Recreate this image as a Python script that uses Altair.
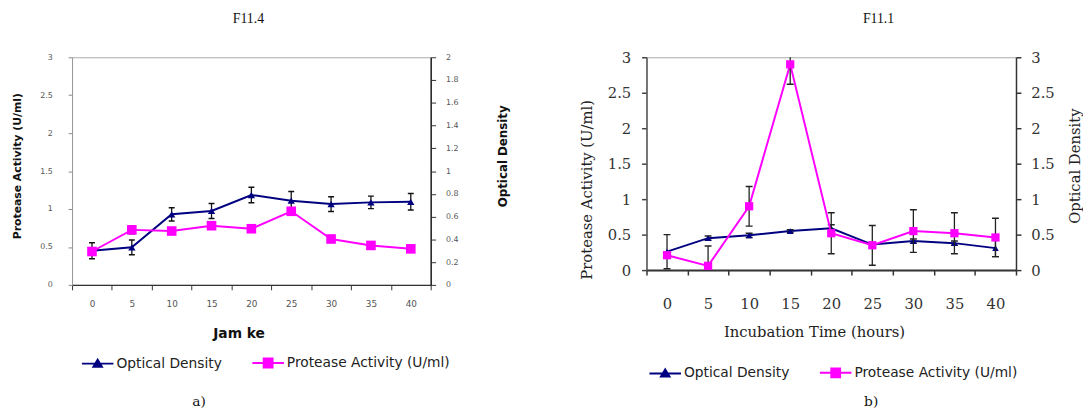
import altair as alt
import pandas as pd

# ---------------- data ----------------
hours = [0, 5, 10, 15, 20, 25, 30, 35, 40]
legend_labels = ["Optical Density", "Protease Activity (U/ml)"]

# panel a) F11.4
a_od = [0.30, 0.33, 0.62, 0.65, 0.79, 0.74, 0.71, 0.725, 0.73]
a_od_err = [0.07, 0.065, 0.058, 0.066, 0.068, 0.08, 0.065, 0.055, 0.072]
a_pa = [0.44, 0.725, 0.71, 0.78, 0.74, 0.97, 0.605, 0.52, 0.475]
a_pa_err = [0.05, 0.05, 0.03, 0.04, 0.03, 0.03, 0.03, 0.02, 0.02]

# panel b) F11.1
b_od = [0.26, 0.45, 0.49, 0.55, 0.59, 0.36, 0.41, 0.38, 0.31]
b_od_err = [0.24, 0.03, 0.03, 0.02, 0.05, 0.03, 0.03, 0.03, 0.12]
b_pa = [0.21, 0.06, 0.90, 2.90, 0.52, 0.35, 0.55, 0.52, 0.46]
b_pa_err = [0.0, 0.28, 0.28, 0.28, 0.29, 0.28, 0.30, 0.29, 0.27]

a_left_ticks = [0, 0.5, 1, 1.5, 2, 2.5, 3]
a_right_ticks = [0, 0.2, 0.4, 0.6, 0.8, 1, 1.2, 1.4, 1.6, 1.8, 2]
b_ticks = [0, 0.5, 1, 1.5, 2, 2.5, 3]

BLUE = "#000080"
MAG = "#FF00FF"
TRI = "M-1,0H1M0,-0.25L0.27,0.2H-0.27Z"
SQR = "M-1,0H1M-0.28,-0.28H0.28V0.28H-0.28Z"


def table(od, od_err, pa, pa_err):
    df = pd.DataFrame({"hour": hours, "od": od, "od_err": od_err,
                       "pa": pa, "pa_err": pa_err})
    df["od_lo"] = df["od"] - df["od_err"]
    df["od_hi"] = df["od"] + df["od_err"]
    df["pa_lo"] = df["pa"] - df["pa_err"]
    df["pa_hi"] = df["pa"] + df["pa_err"]
    return df


def make_panel(df, st):
    base = alt.Chart(df)
    x = alt.X("hour:O", sort=hours,
              scale=alt.Scale(type="band", paddingInner=0, paddingOuter=0),
              axis=alt.Axis(**st["xaxis"]))
    od_scale = alt.Scale(domain=st["od_domain"], nice=False)
    pa_scale = alt.Scale(domain=[0, 3], nice=False)
    od_axis = alt.Axis(**st["raxis"])
    pa_axis = alt.Axis(**st["laxis"])

    def err_layers(lo, hi, scale, axis):
        return [
            base.mark_rule(color=st["err_color"], strokeWidth=1.3, clip=True).encode(
                x=x, y=alt.Y(f"{lo}:Q", scale=scale, axis=axis), y2=f"{hi}:Q"),
            base.mark_tick(color=st["err_color"], size=st["cap"], thickness=1.5, clip=True,
                           opacity=1).encode(
                x=x, y=alt.Y(f"{lo}:Q", scale=scale, axis=axis)),
            base.mark_tick(color=st["err_color"], size=st["cap"], thickness=1.5, clip=True,
                           opacity=1).encode(
                x=x, y=alt.Y(f"{hi}:Q", scale=scale, axis=axis)),
        ]

    od_group = alt.layer(
        base.mark_line(color=BLUE, strokeWidth=2).encode(
            x=x, y=alt.Y("od:Q", scale=od_scale, axis=od_axis)),
        *err_layers("od_lo", "od_hi", od_scale, od_axis),
        base.mark_point(shape="triangle-up", filled=True, color=BLUE, opacity=1,
                        size=st["tri"]).encode(
            x=x, y=alt.Y("od:Q", scale=od_scale, axis=od_axis)),
    )

    L = alt.Legend(title=None, orient="none", legendX=st["legX"], legendY=st["legY"],
                   direction="horizontal", symbolSize=1024, symbolStrokeWidth=2,
                   symbolOpacity=1, labelFont="DejaVu Sans", labelFontSize=14,
                   labelColor="#222", labelOffset=2, labelLimit=400, columnPadding=26)
    legend_layer = base.transform_filter("false").mark_point(
        filled=True, opacity=1, strokeWidth=2).encode(
        x=x, y=alt.Y("pa:Q", scale=pa_scale, axis=pa_axis),
        color=alt.Color("series:N", scale=alt.Scale(domain=legend_labels, range=[BLUE, MAG]), legend=L),
        stroke=alt.Stroke("series:N", scale=alt.Scale(domain=legend_labels, range=[BLUE, MAG]), legend=L),
        shape=alt.Shape("series:N", scale=alt.Scale(domain=legend_labels, range=[TRI, SQR]), legend=L),
    )

    pa_group = alt.layer(
        base.mark_line(color=MAG, strokeWidth=2).encode(
            x=x, y=alt.Y("pa:Q", scale=pa_scale, axis=pa_axis)),
        *err_layers("pa_lo", "pa_hi", pa_scale, pa_axis),
        base.mark_point(shape="square", filled=True, color=MAG, opacity=1,
                        size=st["sq"]).encode(
            x=x, y=alt.Y("pa:Q", scale=pa_scale, axis=pa_axis)),
        legend_layer,
    )

    panel = alt.layer(od_group, pa_group).resolve_scale(y="independent").properties(
        width=st["w"], height=st["h"], title=st["title"])
    return alt.vconcat(panel, title=st["caption"])


sans_label = dict(labelFont="DejaVu Sans", labelColor="#555", grid=False,
                  labelFlush=False, labelOverlap=False)
serif_label = dict(labelFont="DejaVu Serif", labelColor="#333", grid=False,
                   labelFlush=False, labelOverlap=False)

style_a = dict(
    w=364, h=231, od_domain=[0, 2], err_color="#111", cap=6, tri=55, sq=95,
    legX=9, legY=293,
    title=alt.TitleParams("F11.4", font="Liberation Serif", fontSize=14, fontWeight="normal",
                          color="#111", frame="group", anchor="middle", dx=-3, offset=28),
    caption=alt.TitleParams("a)", orient="bottom", font="DejaVu Serif", fontSize=14,
                            fontWeight="normal", color="#111", anchor="middle", dx=-62, offset=24),
    xaxis=dict(title="Jam ke", titleFont="DejaVu Sans", titleFontSize=14, titleFontWeight="bold",
               titleColor="#111", titleX=169, titleY=49, titleBaseline="middle",
               labelFontSize=9, labelAngle=0, labelPadding=10, tickSize=5, tickColor="#333",
               domainColor="#333", domainWidth=1.5, tickBand="extent", **sans_label),
    laxis=dict(title="Protease Activity (U/ml)", orient="left", values=a_left_ticks, format="~g",
               titleFont="DejaVu Sans", titleFontSize=11, titleFontWeight="bold", titleColor="#111",
               titleX=-55, titleY=110, titleBaseline="middle",
               labelFontSize=8, labelPadding=16, tickSize=4, tickColor="#888",
               domainColor="#999", domainWidth=1, **sans_label),
    raxis=dict(title="Optical Density", orient="right", values=a_right_ticks, format="~g",
               titleFont="DejaVu Sans", titleFontSize=12, titleFontWeight="bold", titleColor="#111",
               titleAngle=270, titleX=73, titleY=100, titleBaseline="middle",
               labelFontSize=8, labelPadding=10, tickSize=5, tickColor="#333",
               domainColor="#222", domainWidth=1.5, **sans_label),
)

style_b = dict(
    w=375, h=216, od_domain=[0, 3], err_color="#222", cap=7, tri=45, sq=70,
    legX=2, legY=303,
    title=alt.TitleParams("F11.1", font="Liberation Serif", fontSize=14, fontWeight="normal",
                          color="#111", frame="group", anchor="middle", dx=48, offset=25),
    caption=alt.TitleParams("b)", orient="bottom", font="DejaVu Serif", fontSize=14,
                            fontWeight="normal", color="#111", anchor="middle", dx=41, offset=14),
    xaxis=dict(title="Incubation Time (hours)", titleFont="DejaVu Serif", titleFontSize=15,
               titleFontWeight="normal", titleColor="#222", titleX=170, titleY=62,
               titleBaseline="middle", labelFontSize=15, labelAngle=0, labelPadding=22,
               tickSize=5, tickColor="#333", tickWidth=1.5, domainColor="#333", domainWidth=2,
               tickBand="extent", **serif_label),
    laxis=dict(title="Protease Activity (U/ml)", orient="left", values=b_ticks, format="~g",
               titleFont="DejaVu Serif", titleFontSize=15, titleFontWeight="normal",
               titleColor="#222", titleX=-61, titleY=134, titleBaseline="middle",
               labelFontSize=15, labelPadding=11, tickSize=5, tickColor="#444", tickWidth=1.5,
               domainColor="#555", domainWidth=1.5, **serif_label),
    raxis=dict(title="Optical Density", orient="right", values=b_ticks, format="~g",
               titleFont="DejaVu Serif", titleFontSize=15, titleFontWeight="normal",
               titleColor="#222", titleAngle=270, titleX=59, titleY=110, titleBaseline="middle",
               labelFontSize=15, labelPadding=10, tickSize=5, tickColor="#333", tickWidth=1.5,
               domainColor="#333", domainWidth=1.5, **serif_label),
)

panel_a = make_panel(table(a_od, a_od_err, a_pa, a_pa_err), style_a)
panel_b = make_panel(table(b_od, b_od_err, b_pa, b_pa_err), style_b)

chart = alt.hconcat(panel_a, panel_b, spacing=70).resolve_scale(
    color="independent", stroke="independent", shape="independent"
).properties(
    padding={"left": 3, "top": 0, "right": 0, "bottom": 0},
    background="white",
).configure_view(stroke="#aaaaaa", strokeWidth=1)

chart.save("out.html", embed_options={"renderer": "svg", "actions": False})
